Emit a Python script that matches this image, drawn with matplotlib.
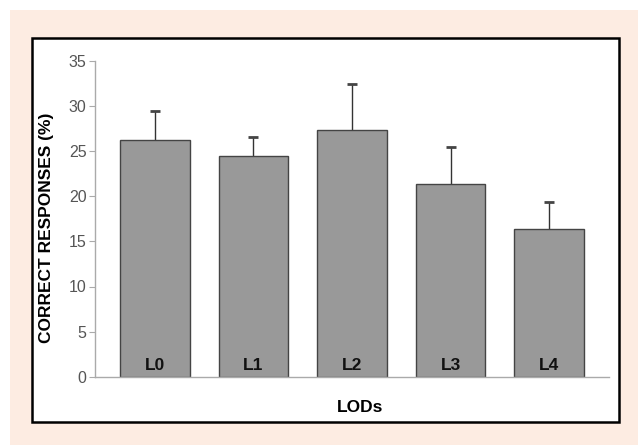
import numpy as np
import matplotlib.pyplot as plt
from matplotlib.patches import Rectangle

plt.rcParams['font.family'] = ['Liberation Sans', 'DejaVu Sans']

lods = ['L0', 'L1', 'L2', 'L3', 'L4']
correct = [26.2, 24.5, 27.4, 21.4, 16.4]
err = [3.3, 2.1, 5.0, 4.1, 3.0]

W, H = 638, 445
fig = plt.figure(figsize=(W / 100, H / 100), dpi=100)

# peach backdrop and white framed panel
fig.patches.append(Rectangle((10 / W, 0), 628 / W, 435 / H, transform=fig.transFigure,
                             facecolor='#fdece2', edgecolor='none', zorder=-2))
fig.patches.append(Rectangle((32 / W, 1 - 422 / H), 587 / W, 384 / H, transform=fig.transFigure,
                             facecolor='white', edgecolor='black', lw=1.8, zorder=-1))

ax = fig.add_axes([95 / W, 1 - 376.7 / H, 514 / W, 315.7 / H])
ax.patch.set_alpha(0)

x = np.arange(len(lods))
tops = np.array(correct) + np.array(err)
ax.bar(x, correct, width=0.71, color='#999999', edgecolor='#444444', lw=1.0, zorder=2)
ax.vlines(x, correct, tops, color='#333333', lw=1.0, zorder=1)
ax.plot(x, tops, ls='none', marker='_', ms=6.5, mew=2, color='#444444', zorder=1)

for xi, lab in zip(x, lods):
    ax.text(xi, 0.4, lab, ha='center', va='bottom', fontsize=12.5, fontweight='bold',
            color='#111111', zorder=3)

ax.set_xlim(-0.609, 4.609)
ax.set_ylim(0, 35)
ax.set_yticks(np.arange(0, 36, 5))
ax.set_xticks([])
for s in ['top', 'right']:
    ax.spines[s].set_visible(False)
for s in ['left', 'bottom']:
    ax.spines[s].set_color('#aaaaaa')
    ax.spines[s].set_linewidth(1.0)
ax.tick_params(axis='y', colors='#aaaaaa', labelcolor='#555555', labelsize=11.5,
               length=4, direction='out', pad=2)

fig.text(47 / W, 1 - 228 / H, 'CORRECT RESPONSES (%)', rotation=90, ha='center',
         va='center', fontsize=12.5, fontweight='bold')
fig.text(360 / W, 1 - 408 / H, 'LODs', ha='center', va='center', fontsize=12.5,
         fontweight='bold')

fig.savefig('out.png', dpi=100)
